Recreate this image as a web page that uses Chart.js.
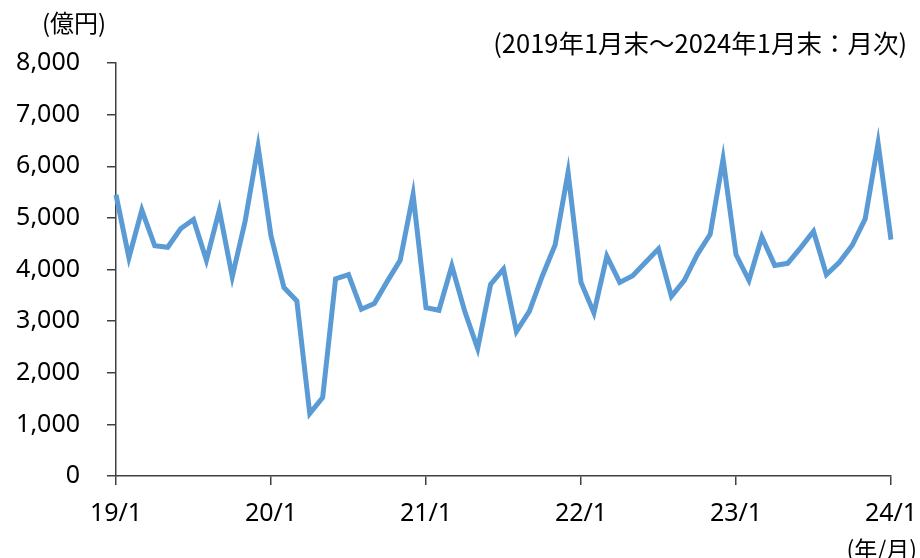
<!DOCTYPE html>
<html lang="ja">
<head>
<meta charset="UTF-8">
<title>月次推移</title>
<script src="https://cdn.jsdelivr.net/npm/chart.js"></script>
<style>
  html, body { margin: 0; padding: 0; background: #fff; }
  #wrap { position: relative; width: 920px; height: 558px; }
  .note { position: absolute; font-family: 'Noto Sans CJK JP', 'Noto Sans', sans-serif; color: #000; white-space: nowrap; line-height: 1; }
</style>
</head>
<body>
<div id="wrap">
  <canvas id="chart" width="920" height="558"></canvas>
  <div class="note" id="unit" style="left:42px; top:10px; font-size:24px;">(億円)</div>
  <div class="note" id="period" style="right:13px; top:29px; font-size:25.5px;">(2019年1月末～2024年1月末：月次)</div>
  <div class="note" id="xunit" style="right:3px; top:537px; font-size:23px;">(年/月)</div>
</div>
<script>
// month categories 19/1 .. 24/1
const months = [];
for (let y = 19; y <= 24; y++) {
  for (let m = 1; m <= 12; m++) {
    if (y === 24 && m > 1) break;
    months.push(y + '/' + m);
  }
}

// monthly values (億円)
const values = [
  5450, 4230, 5150, 4460, 4430, 4790, 4970, 4180, 5150, 3860, 4940, 6380,
  4650, 3650, 3390, 1210, 1520, 3820, 3900, 3230, 3340, 3770, 4180, 5450,
  3260, 3210, 4070, 3190, 2470, 3710, 4010, 2800, 3190, 3870, 4480, 5880,
  3750, 3160, 4260, 3750, 3880, 4140, 4400, 3480, 3790, 4290, 4680, 6140,
  4290, 3790, 4630, 4080, 4120, 4420, 4740, 3900, 4140, 4470, 4980, 6450,
  4580
];

const yMin = 0;
const yMax = 8000;
const yStep = 1000;

const axisColor = '#404040';
const lineColor = '#5B9BD5';

const ctx = document.getElementById('chart').getContext('2d');
new Chart(ctx, {
  type: 'line',
  data: {
    labels: months,
    datasets: [{
      data: values,
      borderColor: lineColor,
      borderWidth: 5,
      pointRadius: 0,
      tension: 0,
      fill: false
    }]
  },
  options: {
    responsive: false,
    animation: false,
    layout: { padding: { top: 63, right: 29, bottom: 0, left: 0 } },
    plugins: { legend: { display: false }, tooltip: { enabled: false } },
    scales: {
      x: {
        type: 'category',
        offset: false,
        afterBuildTicks: scale => {
          scale.ticks = scale.ticks.filter(t => t.value % 12 === 0);
        },
        afterFit: scale => {
          scale.height = 82;
          scale.paddingLeft = 0;
          scale.paddingRight = 0;
        },
        ticks: {
          autoSkip: false,
          maxRotation: 0,
          padding: 14,
          color: '#000',
          font: { family: 'Noto Sans', size: 25 },
          callback: function (value) { return this.getLabelForValue(value); }
        },
        grid: { drawOnChartArea: false, drawTicks: true, tickLength: 9, color: axisColor, lineWidth: 1.5 },
        border: { display: true, color: axisColor, width: 1.5 }
      },
      y: {
        min: yMin,
        max: yMax,
        afterFit: scale => { scale.width = 116; },
        ticks: {
          stepSize: yStep,
          padding: 27,
          color: '#000',
          font: { family: 'Noto Sans', size: 25 },
          callback: v => v.toLocaleString('en-US')
        },
        grid: { drawOnChartArea: false, drawTicks: true, tickLength: 9, color: axisColor, lineWidth: 1.5 },
        border: { display: true, color: axisColor, width: 1.5 }
      }
    }
  }
});
</script>
</body>
</html>
